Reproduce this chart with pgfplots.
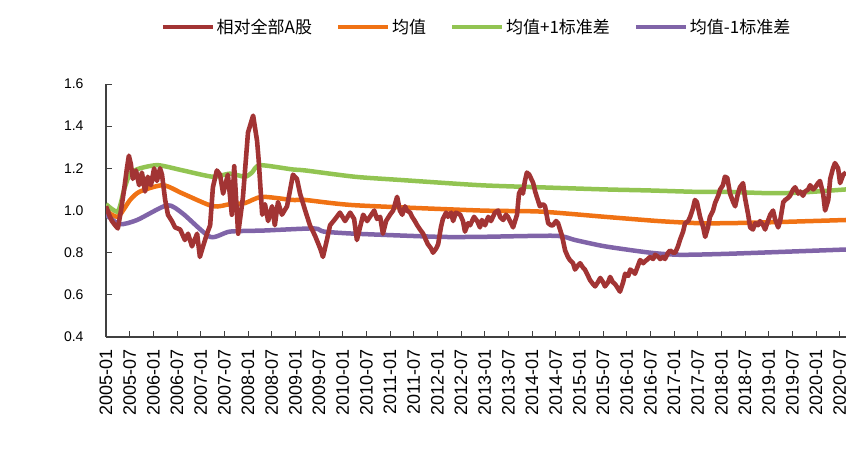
\documentclass[border=0pt]{standalone}
\usepackage{fontspec}
\setmainfont{Liberation Sans}
\newfontfamily\cjk{Noto Sans CJK SC}
\usepackage{pgfplots}
\pgfplotsset{compat=1.18}
\definecolor{cred}{RGB}{162,52,52}
\definecolor{corange}{RGB}{240,114,20}
\definecolor{cgreen}{RGB}{146,196,82}
\definecolor{cpurple}{RGB}{128,100,168}
\begin{document}
\begin{tikzpicture}
\path[use as bounding box] (0,0) rectangle (846pt,459pt);
\begin{axis}[
  at={(106pt,122pt)}, anchor=south west,
  scale only axis, width=740pt, height=253pt,
  xmin=0, xmax=187.6, ymin=0.4, ymax=1.6,
  axis x line=bottom, axis y line=left,
  axis line style={-, line width=1.2pt, black!75},
  xtick={0,6,...,186},
  xticklabels={2005-01,2005-07,2006-01,2006-07,2007-01,2007-07,2008-01,2008-07,2009-01,2009-07,2010-01,2010-07,2011-01,2011-07,2012-01,2012-07,2013-01,2013-07,2014-01,2014-07,2015-01,2015-07,2016-01,2016-07,2017-01,2017-07,2018-01,2018-07,2019-01,2019-07,2020-01,2020-07},
  ytick={0.4,0.6,...,1.61},
  yticklabel style={/pgf/number format/.cd, fixed, fixed zerofill, precision=1, /tikz/.cd, font=\fontsize{14}{16}\selectfont, xshift=-19pt},
  xticklabel style={rotate=90, anchor=east, font=\fontsize{18}{20}\selectfont, xshift=-9pt},
  /pgf/number format/assume math mode=true,
  tick style={black!75, line width=1pt},
  major tick length=6pt,
  tick align=inside,
  legend columns=4,
  legend style={at={(0.5007,1.225)}, anchor=center, draw=none, fill=none,
    font=\fontsize{17}{19}\selectfont\cjk,
    /tikz/every even column/.append style={column sep=22pt}},
  legend image code/.code={\draw[#1, line width=4pt] (0pt,0pt) -- (50pt,0pt);},
]
\addlegendimage{cred}
\addlegendentry{相对全部A股}
\addlegendimage{corange}
\addlegendentry{均值}
\addlegendimage{cgreen}
\addlegendentry{均值+1标准差}
\addlegendimage{cpurple}
\addlegendentry{均值-1标准差}

% mean + 1 sd
\addplot[cgreen, line width=4.5pt, smooth, tension=0.4, forget plot] coordinates {
(0,1.03) (3.0,0.995) (4.6,1.10) (6.1,1.175) (8.6,1.20) (13.2,1.215) (19.5,1.19) (27.1,1.16) (31.4,1.175) (35.2,1.16) (37,1.18) (39,1.215) (47.2,1.195) (50.5,1.19) (63.1,1.16) (74.5,1.145) (94.8,1.12) (110,1.11) (126.5,1.10) (137.9,1.095) (150.6,1.088) (158.2,1.088) (168.4,1.082) (176,1.085) (187.6,1.10)};
% mean
\addplot[corange, line width=4.5pt, smooth, tension=0.4, forget plot] coordinates {
(0,1.0) (3.0,0.97) (6.1,1.05) (8.6,1.09) (14.5,1.12) (19.5,1.08) (27.1,1.02) (31.4,1.03) (35.2,1.035) (39.5,1.065) (47.2,1.05) (50.5,1.05) (63.1,1.025) (94.8,1.0) (110,0.995) (126.5,0.97) (140,0.95) (150,0.94) (158,0.94) (170,0.945) (187.6,0.955)};
% mean - 1 sd
\addplot[cpurple, line width=4.5pt, smooth, tension=0.4, forget plot] coordinates {
(0,0.98) (3.5,0.935) (7.9,0.955) (15.5,1.025) (19.5,0.985) (26.4,0.875) (31.4,0.90) (40,0.905) (52.7,0.915) (55.2,0.90) (63.1,0.89) (84.4,0.875) (94.8,0.875) (114,0.88) (118.9,0.86) (126.5,0.83) (137.9,0.80) (145.5,0.79) (158.2,0.795) (187.6,0.815)};
% relative to all A shares
\addplot[cred, line width=4.6pt, line join=round, forget plot] coordinates {
(0,1.02) (0.8,0.98) (1.5,0.95) (2.3,0.93) (3.0,0.915) (3.8,1.0) (4.6,1.1) (5.3,1.2) (5.8,1.26) (6.3,1.22) (6.8,1.15) (7.6,1.19) (8.4,1.12) (9.1,1.18) (9.9,1.09) (10.6,1.16) (11.4,1.12) (12.2,1.2) (12.9,1.14) (13.7,1.2) (14.2,1.17) (15.0,1.05) (15.7,0.98) (16.7,0.95) (17.5,0.92) (18.8,0.91) (20.0,0.86) (20.8,0.89) (21.8,0.83) (23.1,0.89) (23.8,0.78) (24.6,0.83) (25.6,0.89) (26.4,0.93) (27.1,1.11) (28.1,1.19) (28.9,1.17) (29.7,1.08) (30.9,1.17) (31.9,0.98) (32.5,1.21) (33.5,0.89) (34.7,1.06) (36.0,1.37) (37.3,1.45) (38.3,1.33) (38.7,1.24) (39.6,0.98) (40.3,1.03) (41.1,0.95) (42.1,1.02) (42.8,0.93) (43.6,1.04) (44.6,0.98) (45.9,1.02) (46.7,1.1) (47.4,1.17) (48.4,1.15) (49.2,1.08) (50.5,1.0) (51.7,0.93) (53.0,0.88) (54.3,0.82) (55.0,0.78) (56.0,0.86) (56.8,0.93) (58.1,0.96) (59.3,0.99) (60.6,0.95) (61.9,0.99) (62.9,0.96) (63.6,0.86) (64.4,0.92) (65.2,0.98) (66.2,0.95) (66.9,0.97) (68.0,1.0) (68.7,0.96) (69.5,0.97) (70.2,0.89) (71.0,0.95) (72.0,0.98) (72.8,1.0) (73.8,1.065) (74.5,1.0) (75.1,0.98) (75.8,1.02) (76.3,1.0) (77.1,0.99) (77.6,0.97) (78.3,0.95) (78.9,0.93) (79.6,0.91) (80.4,0.89) (81.1,0.86) (81.6,0.84) (82.4,0.82) (82.9,0.80) (83.7,0.82) (84.2,0.84) (84.9,0.92) (85.4,0.96) (86.2,0.99) (86.7,0.97) (87.5,0.99) (88.0,0.95) (88.7,0.99) (89.8,0.98) (90.5,0.95) (91.0,0.90) (91.8,0.94) (92.3,0.93) (93.3,0.97) (94.1,0.95) (94.8,0.92) (95.3,0.955) (96.1,0.93) (96.9,0.97) (97.6,0.95) (98.6,0.99) (99.4,1.0) (99.9,0.97) (100.7,0.955) (101.4,0.98) (101.9,0.97) (102.7,0.94) (103.2,0.92) (103.7,0.95) (104.2,0.98) (104.7,1.08) (105.2,1.1) (105.7,1.08) (106.2,1.14) (106.7,1.18) (107.3,1.17) (107.8,1.15) (108.3,1.13) (108.8,1.09) (109.3,1.06) (110.0,1.02) (110.8,1.03) (111.3,1.02) (112.1,0.94) (112.8,0.93) (113.3,0.93) (114.1,0.95) (114.6,0.94) (115.1,0.91) (115.6,0.88) (116.4,0.81) (117.1,0.78) (117.6,0.765) (118.4,0.75) (118.9,0.72) (119.7,0.74) (120.2,0.75) (120.9,0.73) (121.4,0.72) (122.2,0.69) (122.7,0.67) (123.5,0.65) (124.0,0.64) (124.7,0.66) (125.3,0.68) (126.0,0.66) (126.5,0.64) (127.3,0.66) (127.8,0.685) (128.5,0.66) (129.1,0.65) (129.8,0.63) (130.3,0.615) (131.1,0.66) (131.6,0.70) (132.4,0.69) (132.9,0.72) (133.6,0.71) (134.1,0.70) (134.9,0.74) (135.4,0.765) (136.2,0.75) (136.7,0.76) (137.4,0.77) (137.9,0.78) (138.7,0.77) (139.2,0.79) (140.0,0.78) (140.5,0.77) (141.2,0.78) (141.7,0.77) (142.5,0.80) (143.0,0.81) (143.8,0.80) (144.3,0.80) (145.0,0.83) (145.5,0.86) (146.3,0.90) (146.8,0.94) (147.6,0.95) (148.1,0.97) (148.8,1.01) (149.3,1.05) (149.8,1.04) (150.6,0.97) (151.4,0.92) (151.9,0.875) (152.6,0.92) (153.1,0.97) (153.9,1.0) (154.4,1.035) (155.2,1.07) (155.7,1.10) (156.4,1.12) (156.9,1.16) (157.5,1.155) (158.2,1.08) (159.0,1.04) (159.5,1.02) (160.2,1.08) (160.7,1.11) (161.5,1.13) (162.0,1.06) (162.8,0.98) (163.3,0.92) (164.0,0.91) (164.6,0.94) (165.3,0.93) (165.8,0.95) (166.6,0.93) (167.1,0.91) (167.8,0.95) (168.4,0.98) (169.1,1.0) (169.6,0.96) (170.4,0.92) (170.9,0.95) (171.7,1.04) (172.2,1.05) (172.9,1.06) (173.4,1.07) (174.2,1.1) (174.7,1.11) (175.5,1.08) (176.0,1.09) (176.7,1.07) (177.2,1.09) (178.0,1.1) (178.5,1.12) (179.3,1.1) (179.8,1.11) (180.5,1.13) (181.0,1.14) (181.8,1.08) (182.3,1.0) (183.1,1.05) (183.6,1.15) (184.3,1.2) (184.8,1.225) (185.6,1.2) (186.1,1.13) (186.9,1.17) (187.6,1.18)};
\end{axis}
\end{tikzpicture}
\end{document}
